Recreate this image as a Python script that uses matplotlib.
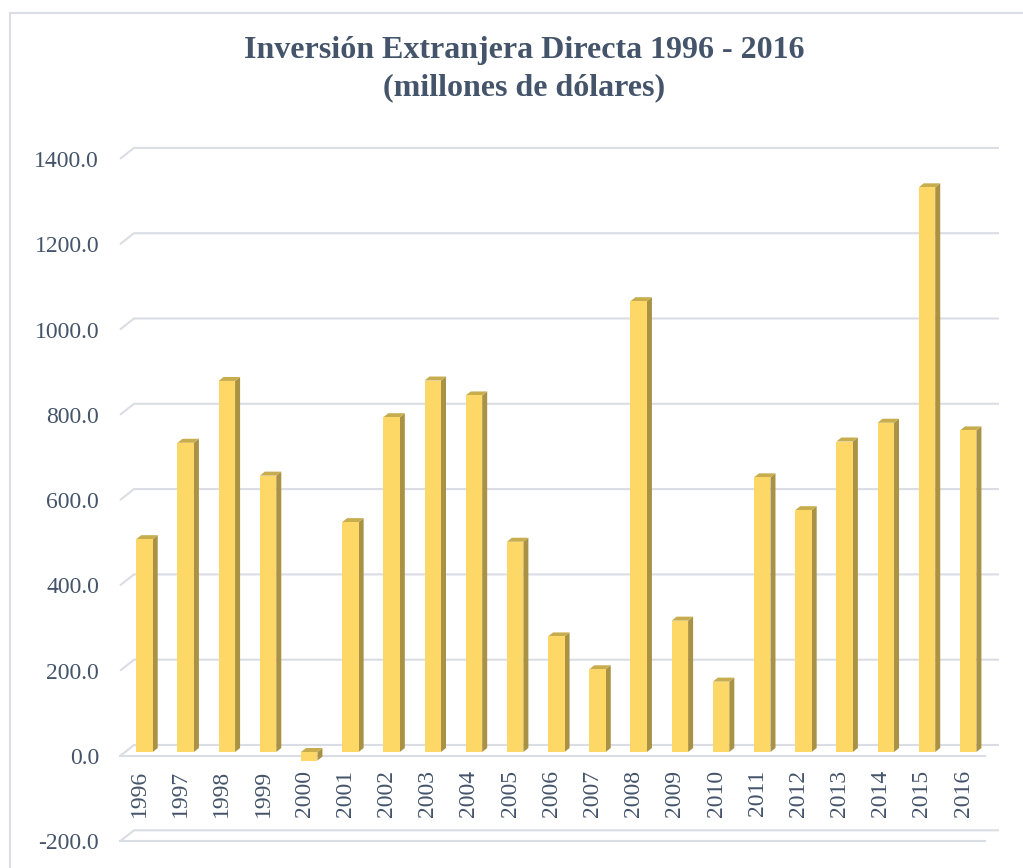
import matplotlib
matplotlib.use('Agg')
import matplotlib.pyplot as plt
from matplotlib.patches import Polygon
from matplotlib.transforms import ScaledTranslation
from matplotlib.lines import Line2D

years = ['1996', '1997', '1998', '1999', '2000', '2001', '2002', '2003', '2004', '2005', '2006',
         '2007', '2008', '2009', '2010', '2011', '2012', '2013', '2014', '2015', '2016']
ied = [499, 725, 870, 648, -20, 539, 785, 871, 836, 493, 271,
       194, 1057, 308, 165, 644, 567, 728, 772, 1324, 754]
yticks = [-200, 0, 200, 400, 600, 800, 1000, 1200, 1400]
ytick_labels = ['-200.0', '0.0', '200.0', '400.0', '600.0', '800.0', '1000.0', '1200.0', '1400.0']

title1 = 'Inversión Extranjera Directa 1996 - 2016'
title2 = '(millones de dólares)'

text_col = '#44546A'
grid_col = '#DADDE3'
front_col = '#FDD866'
side_col = '#A99244'
top_col = '#C8AD4E'

W, H, DPI = 1023, 868, 100
fig = plt.figure(figsize=(W / DPI, H / DPI), dpi=DPI)

# axes = front plane of the 3D box, in pixels
left_px, right_px = 120, 985
top_px, bot_px = 158.9, 841.3
ax = fig.add_axes([left_px / W, (H - bot_px) / H, (right_px - left_px) / W, (bot_px - top_px) / H])
xlim = (-0.473, 20.53)
ylim = (-200, 1400)
ax.set_xlim(*xlim)
ax.set_ylim(*ylim)
for s in ax.spines.values():
    s.set_visible(False)

px_x = (right_px - left_px) / (xlim[1] - xlim[0])   # pixels per category
px_y = (bot_px - top_px) / (ylim[1] - ylim[0])      # pixels per value unit

# grid: back wall lines with a slanted stub at the left
gdx, gdy = 14 / px_x, 11 / px_y
for t in yticks:
    ax.plot([xlim[0], xlim[0] + gdx, xlim[1] + gdx], [t, t + gdy, t + gdy],
            color=grid_col, lw=1.5, clip_on=False, zorder=1, solid_capstyle='butt')
for t in [-200, 0]:
    ax.plot([xlim[0], xlim[1]], [t, t], color=grid_col, lw=1.5, clip_on=False, zorder=1)

# bars, sitting a little inside the depth
ddx, ddy = 5 / px_x, 4 / px_y
bw = 0.40
off = ax.transData + ScaledTranslation(5 / DPI, 4 / DPI, fig.dpi_scale_trans)
for i, v in enumerate(ied):
    x0, x1 = i - bw / 2, i + bw / 2
    hi = max(v, 0)
    side = Polygon([(x1, min(v, 0)), (x1 + ddx, min(v, 0) + ddy), (x1 + ddx, hi + ddy), (x1, hi)],
                   closed=True, facecolor=side_col, edgecolor='none', transform=off, zorder=3)
    top = Polygon([(x0, hi), (x0 + ddx, hi + ddy), (x1 + ddx, hi + ddy), (x1, hi)],
                  closed=True, facecolor=top_col, edgecolor='none', transform=off, zorder=3)
    ax.add_patch(side)
    ax.add_patch(top)
ax.bar(range(len(years)), ied, width=bw, color=front_col, edgecolor='none', transform=off, zorder=4)

# y labels
ax.set_yticks(yticks)
ax.set_yticklabels(ytick_labels)
ax.tick_params(axis='y', length=0, pad=15, labelsize=17, labelcolor=text_col)
for lab in ax.get_yticklabels():
    lab.set_fontfamily('Liberation Serif')
ax.set_xticks([])

# year labels just under the zero line
lab_off = ax.transData + ScaledTranslation(0, -14 / DPI, fig.dpi_scale_trans)
for i, yr in enumerate(years):
    ax.text(i, 0, yr, rotation=90, ha='center', va='top', fontsize=17,
            color=text_col, family='Liberation Serif', transform=lab_off)

fig.text(0.512, (H - 58) / H, title1, ha='center', va='baseline', fontsize=23,
         fontweight='bold', color=text_col, family='Liberation Serif')
fig.text(0.512, (H - 95) / H, title2, ha='center', va='baseline', fontsize=23,
         fontweight='bold', color=text_col, family='Liberation Serif')

# chart border
fig.add_artist(Line2D([10 / W, 10 / W], [0, (H - 13) / H], color=grid_col, lw=1.5))
fig.add_artist(Line2D([10 / W, 1], [(H - 13) / H, (H - 13) / H], color=grid_col, lw=1.5))

fig.savefig('out.png', dpi=DPI)
